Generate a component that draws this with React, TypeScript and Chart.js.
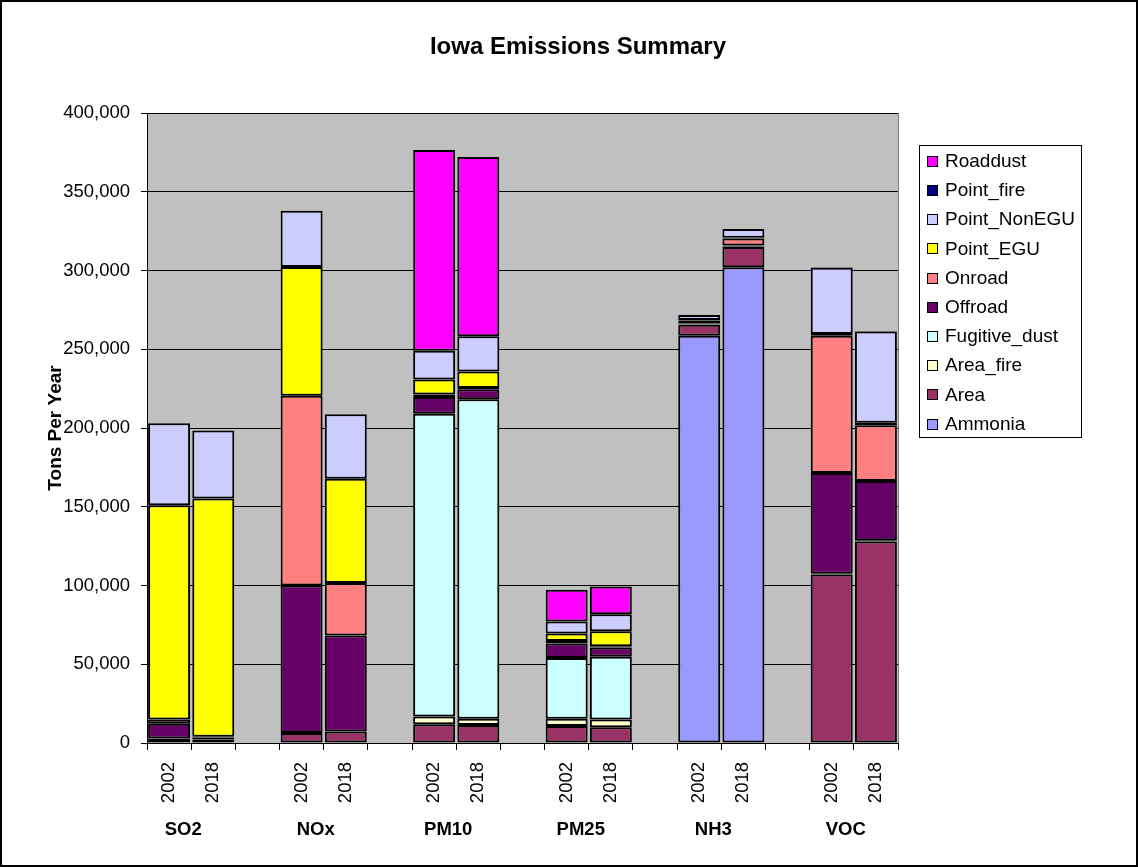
import React, { useEffect, useRef } from 'react';
import { Chart, registerables } from 'chart.js';

Chart.register(...registerables);

const chartTitle = 'Iowa Emissions Summary';
const yAxisTitle = 'Tons Per Year';
const groups = ['SO2', 'NOx', 'PM10', 'PM25', 'NH3', 'VOC'];
const years = ['2002', '2018'];

const seriesNames = ['Ammonia', 'Area', 'Area_fire', 'Fugitive_dust', 'Offroad', 'Onroad', 'Point_EGU', 'Point_NonEGU', 'Point_fire', 'Roaddust'];
const seriesColors = ['#9999FF', '#993366', '#FFFFCC', '#CCFFFF', '#660066', '#FF8080', '#FFFF00', '#CCCCFF', '#000080', '#FF00FF'];

// order: SO2 2002, SO2 2018, NOx 2002, NOx 2018, PM10 ..., PM25 ..., NH3 ..., VOC ...
const ammonia = [0, 0, 0, 0, 0, 0, 0, 0, 258600, 302000, 0, 0];
const area = [2500, 2300, 6400, 7300, 11900, 11400, 10800, 10000, 7000, 13000, 107000, 128000];
const areaFire = [300, 0, 0, 0, 4900, 4000, 4600, 4900, 300, 300, 500, 700];
const fugitiveDust = [0, 0, 0, 0, 192300, 202900, 38500, 39800, 0, 0, 0, 0];
const offroad = [9500, 1200, 93600, 60900, 10600, 6300, 9300, 5900, 500, 500, 64000, 37700];
const onroad = [2700, 400, 120500, 33400, 1600, 800, 1500, 900, 1800, 4500, 87000, 35400];
const pointEGU = [136000, 151300, 81800, 66100, 9500, 10400, 4900, 9500, 300, 500, 1200, 1500];
const pointNonEGU = [52000, 43200, 35700, 41000, 18200, 22500, 7600, 10800, 3200, 5500, 42000, 58000];
const pointFire = [0, 0, 0, 0, 0, 0, 0, 0, 0, 0, 300, 300];
const roaddust = [0, 0, 0, 0, 127500, 113700, 20100, 17600, 0, 0, 0, 0];

const seriesValues = [ammonia, area, areaFire, fugitiveDust, offroad, onroad, pointEGU, pointNonEGU, pointFire, roaddust];

const yTicks = [0, 50000, 100000, 150000, 200000, 250000, 300000, 350000, 400000];

const FONT = 'Arial, "Liberation Sans", Helvetica, sans-serif';

// build slot labels: 2002, 2018, gap, ...
const slotLabels: string[] = [];
groups.forEach((g, gi) => {
  years.forEach((y) => slotLabels.push(y));
  if (gi < groups.length - 1) slotLabels.push('');
});

function toSlots(vals: number[]): (number | null)[] {
  const out: (number | null)[] = [];
  groups.forEach((g, gi) => {
    out.push(vals[gi * 2] || null, vals[gi * 2 + 1] || null);
    if (gi < groups.length - 1) out.push(null);
  });
  return out;
}

const decorPlugin = {
  id: 'decor',
  beforeDraw(chart: any) {
    const { ctx, chartArea, width, height } = chart;
    ctx.save();
    ctx.fillStyle = '#FFFFFF';
    ctx.fillRect(0, 0, width, height);
    ctx.fillStyle = '#C0C0C0';
    ctx.fillRect(chartArea.left, chartArea.top, chartArea.right - chartArea.left, chartArea.bottom - chartArea.top);
    ctx.strokeStyle = '#808080';
    ctx.lineWidth = 1;
    ctx.beginPath();
    ctx.moveTo(Math.round(chartArea.right) + 0.5, chartArea.top);
    ctx.lineTo(Math.round(chartArea.right) + 0.5, chartArea.bottom);
    ctx.stroke();
    ctx.restore();
  },
  afterDraw(chart: any) {
    const { ctx, width, height } = chart;
    const xs = chart.scales.x;
    ctx.save();
    // outer border
    ctx.strokeStyle = '#000';
    ctx.lineWidth = 2;
    ctx.strokeRect(1, 1, width - 2, height - 2);

    // title
    ctx.fillStyle = '#000';
    ctx.font = `bold 24px ${FONT}`;
    ctx.textAlign = 'center';
    ctx.textBaseline = 'middle';
    ctx.fillText(chartTitle, 578, 47);

    // group labels
    ctx.font = `bold 18.5px ${FONT}`;
    groups.forEach((g, gi) => {
      const a = xs.getPixelForValue(gi * 3);
      const b = xs.getPixelForValue(gi * 3 + 1);
      ctx.fillText(g, (a + b) / 2 - 8, 830);
    });

    // legend
    const lx = 919, ly = 145, lw = 162, lh = 292;
    ctx.fillStyle = '#FFFFFF';
    ctx.fillRect(lx, ly, lw, lh);
    ctx.strokeStyle = '#000';
    ctx.lineWidth = 1;
    ctx.strokeRect(lx + 0.5, ly + 0.5, lw, lh);
    const ds = chart.data.datasets.slice().reverse();
    ctx.font = `19px ${FONT}`;
    ctx.textAlign = 'left';
    ds.forEach((d: any, i: number) => {
      const cy = 160.7 + i * 29.2;
      ctx.fillStyle = d.backgroundColor;
      ctx.fillRect(927, Math.round(cy - 5), 11, 11);
      ctx.strokeStyle = '#000';
      ctx.strokeRect(927.5, Math.round(cy - 5) + 0.5, 10, 10);
      ctx.fillStyle = '#000';
      ctx.fillText(d.label, 945, cy + 1);
    });
    ctx.restore();
  },
};

export default function App() {
  const ref = useRef<HTMLCanvasElement | null>(null);

  useEffect(() => {
    document.body.style.margin = '0';
    if (!ref.current) return;
    const chart = new Chart(ref.current, {
      type: 'bar',
      data: {
        labels: slotLabels,
        datasets: seriesNames.map((name, i) => ({
          label: name,
          data: toSlots(seriesValues[i]),
          backgroundColor: seriesColors[i],
          borderColor: '#000000',
          borderWidth: 2,
          borderSkipped: false,
          barPercentage: 0.95,
          categoryPercentage: 1,
        })),
      },
      options: {
        responsive: false,
        animation: false,
        devicePixelRatio: 1,
        layout: { padding: { left: 0, top: 113, right: 240, bottom: 0 } },
        plugins: {
          legend: { display: false },
          title: { display: false },
          tooltip: { enabled: false },
        },
        scales: {
          x: {
            stacked: true,
            offset: true,
            afterFit: (s: any) => { s.height = 124; },
            grid: {
              offset: true,
              drawOnChartArea: false,
              drawTicks: true,
              tickLength: 7,
              color: '#000',
            },
            border: { display: true, color: '#000', width: 1 },
            ticks: {
              autoSkip: false,
              maxRotation: 90,
              minRotation: 90,
              padding: 12,
              color: '#000',
              font: { family: FONT, size: 18.5 },
            },
          },
          y: {
            stacked: true,
            min: 0,
            max: 400000,
            afterFit: (s: any) => { s.width = 147; },
            afterBuildTicks: (s: any) => { s.ticks = yTicks.map((v) => ({ value: v })); },
            grid: {
              color: '#000',
              drawTicks: true,
              tickLength: 6,
            },
            border: { display: true, color: '#000', width: 1 },
            ticks: {
              padding: 11,
              color: '#000',
              font: { family: FONT, size: 18.5 },
              callback: (v: any) => Number(v).toLocaleString('en-US'),
            },
            title: {
              display: true,
              text: yAxisTitle,
              color: '#000',
              font: { family: FONT, size: 19, weight: 'bold' },
              padding: { top: 44, bottom: 0 },
            },
          },
        },
      },
      plugins: [decorPlugin],
    });
    return () => chart.destroy();
  }, []);

  return (
    <div style={{ width: 1138, height: 867 }}>
      <canvas ref={ref} width={1138} height={867} style={{ display: 'block', width: 1138, height: 867 }} />
    </div>
  );
}
